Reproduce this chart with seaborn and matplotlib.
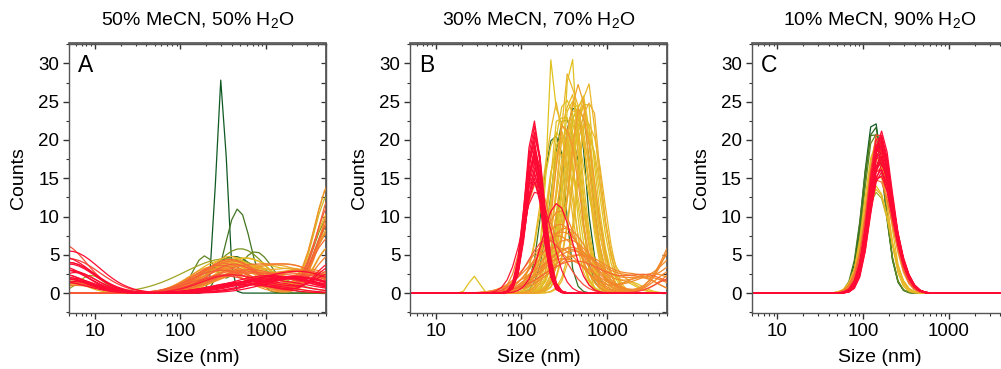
import numpy as np
import pandas as pd
import matplotlib
matplotlib.use("Agg")
import matplotlib.pyplot as plt
from matplotlib.colors import LinearSegmentedColormap
from matplotlib.ticker import MultipleLocator, LogLocator, NullFormatter
import seaborn as sns

sns.set_theme(style="white")
plt.rcParams["font.family"] = ["Liberation Sans", "DejaVu Sans"]
plt.rcParams["mathtext.default"] = "regular"
for key in ["text.color", "axes.labelcolor", "xtick.color", "ytick.color"]:
    plt.rcParams[key] = "black"

# ---------------- data (peak parameters) ----------------
# Instrument size classes (nm)
size_classes = np.geomspace(0.4, 10000, 70)

panel_titles = ["50% MeCN, 50% H$_2$O", "30% MeCN, 70% H$_2$O", "10% MeCN, 90% H$_2$O"]
panel_letters = ["A", "B", "C"]

# Panel A: each measurement = up to three peaks (centre nm, height counts, width decades)
a_c1 = [300, 420, 470, 190, 500,
        350, 450, 500, 400, 550, 600, 300, 700, 380, 500,
        380, 450, 300, 600, 350, 480, 250, 420, 700, 300, 500, 350, 600, 250, 400, 550, 320, 450, 650, 280,
        380, 520, 300, 420, 350,
        1500, 600, 300, 1200, 400, 700, 2000, 300, 1000, 800, 1800, 500, 1300, 900, 2500, 600, 1100, 1600, 700, 2000]
a_h1 = [28, 4.8, 11, 4.8, 5.8,
        4.5, 4.2, 4.5, 4.0, 3.8, 4.6, 4.2, 3.5, 4.8, 4.0,
        4.3, 3.5, 3.8, 3.2, 4.0, 3.0, 3.5, 3.6, 2.8, 3.3, 2.5, 3.0, 2.6, 3.2, 4.2, 3.4, 3.9, 2.9, 3.1, 3.6,
        4.4, 2.7, 3.0, 3.8, 2.4,
        2.0, 1.5, 2.2, 2.0, 2.4, 1.2, 2.1, 0.8, 1.7, 1.6, 1.9, 1.4, 2.2, 1.3, 2.0, 1.1, 2.3, 2.1, 1.5, 2.2]
a_w1 = [0.06, 0.28, 0.14, 0.13, 0.3,
        0.5, 0.3, 0.35, 0.3, 0.33, 0.3, 0.32, 0.35, 0.28, 0.3,
        0.3, 0.4, 0.3, 0.35, 0.32, 0.4, 0.3, 0.35, 0.4, 0.3, 0.4, 0.35, 0.4, 0.3, 0.33, 0.38, 0.3, 0.36, 0.4, 0.3,
        0.32, 0.4, 0.35, 0.3, 0.4,
        0.5, 0.4, 0.3, 0.45, 0.35, 0.4, 0.45, 0.3, 0.5, 0.45, 0.4, 0.35, 0.45, 0.4, 0.4, 0.35, 0.45, 0.45, 0.4, 0.4]
a_c2 = [1000, 5500, 1000, 750, 5500,
        1000, 5500, 3000, 6000, 1000, 5500, 2500, 6000, 4000, 5500,
        5500, 2500, 6500, 2000, 6000, 3500, 5500, 6000, 2500, 6500, 3000, 5500, 6000, 4000, 7000, 2500, 6000, 3000, 5500, 2000,
        6500, 3500, 5500, 6000, 3000,
        1000, 6000, 2500, 1000, 6000, 1000, 1000, 2500, 1000, 1000, 1000, 6000, 1000, 3000, 1000, 1000, 1000, 1000, 6000, 1000]
a_h2 = [0, 9, 0, 5.4, 10,
        0, 13, 2.5, 9, 0, 6, 2.8, 11, 2.6, 8,
        14, 2.5, 12, 2.2, 9, 2.8, 6, 15, 2.4, 11, 2.6, 8, 5, 2.5, 13, 2.7, 10, 2.3, 7, 2.0,
        14, 2.5, 9, 12, 2.2,
        0, 3, 2.2, 0, 4, 0, 0, 2.0, 0, 0, 0, 3.5, 0, 2.2, 0, 0, 0, 0, 2.5, 0]
a_w2 = [0.1, 0.17, 0.1, 0.2, 0.18,
        0.1, 0.18, 0.3, 0.19, 0.1, 0.17, 0.3, 0.2, 0.25, 0.18,
        0.18, 0.25, 0.19, 0.25, 0.19, 0.3, 0.17, 0.2, 0.3, 0.19, 0.3, 0.18, 0.19, 0.3, 0.2, 0.3, 0.19, 0.3, 0.18, 0.3,
        0.2, 0.3, 0.18, 0.2, 0.3,
        0.1, 0.2, 0.35, 0.1, 0.2, 0.1, 0.1, 0.4, 0.1, 0.1, 0.1, 0.2, 0.1, 0.35, 0.1, 0.1, 0.1, 0.1, 0.2, 0.1]
a_c3 = [10, 10, 10, 10, 10,
        9, 10, 5, 10, 5, 10, 10, 6, 10, 10,
        10, 5, 10, 10, 10, 6, 10, 10, 5, 10, 10, 10, 5, 10, 10, 6, 10, 10, 5, 10,
        10, 10, 5, 10, 10,
        4, 5, 5, 5, 4, 5, 4, 5, 4, 4.5, 5, 4, 5, 6, 4, 5, 4, 5, 6, 4]
a_h3 = [0, 0, 0, 0, 0,
        2.3, 0, 1.5, 0, 1.8, 0, 0, 1.2, 0, 0,
        0, 1.5, 0, 0, 0, 1.2, 0, 0, 1.8, 0, 0, 0, 1.4, 0, 0, 1.0, 0, 0, 1.6, 0,
        0, 0, 1.3, 0, 0,
        6.5, 3, 4.5, 4, 2.5, 3, 1.5, 2.0, 3.5, 3, 5.5, 2.0, 4, 1.5, 2.5, 3.8, 2.2, 1.8, 2.7, 4.8]
a_w3 = [0.2, 0.2, 0.2, 0.2, 0.2,
        0.15, 0.2, 0.2, 0.2, 0.25, 0.2, 0.2, 0.3, 0.2, 0.2,
        0.2, 0.25, 0.2, 0.2, 0.2, 0.3, 0.2, 0.2, 0.25, 0.2, 0.2, 0.2, 0.3, 0.2, 0.2, 0.3, 0.2, 0.2, 0.25, 0.2,
        0.2, 0.2, 0.3, 0.2, 0.2,
        0.3, 0.25, 0.35, 0.3, 0.3, 0.3, 0.3, 0.3, 0.3, 0.3, 0.35, 0.3, 0.3, 0.25, 0.3, 0.3, 0.3, 0.3, 0.25, 0.35]

# Panel B
b_c1 = [400, 230, 320, 480,
        300, 380, 450, 350, 520, 260, 420, 560, 330, 400, 280, 480, 370, 620, 320, 440, 290, 500,
        350, 460, 540, 250, 650, 400, 480, 360, 580, 430, 510, 340,
        300, 250, 350, 400, 280, 150, 450, 330, 260, 380, 300, 500, 280, 350, 420, 200,
        150, 260,
        140, 142, 138, 145, 140, 143, 137, 141, 146, 139, 144, 140, 142, 138, 145, 141, 143, 139]
b_h1 = [24, 20, 23, 24,
        22, 26, 24, 25, 23, 21, 25, 22, 23, 22, 20, 24, 21, 20, 19, 22, 18, 20,
        24, 23, 25, 22, 21, 26, 23, 20, 24, 25, 22, 21,
        8, 6, 7, 5.5, 9, 14, 5, 8.5, 7.5, 6, 4.5, 5, 10.8, 5.8, 4.2, 7,
        13.3, 11.7,
        22.5, 21, 20, 19, 18.5, 18, 17.5, 17, 16.5, 16, 15.5, 15, 14.5, 19.5, 20.5, 21.8, 18.8, 17.8]
b_w1 = [0.14, 0.12, 0.15, 0.14,
        0.16, 0.1, 0.17, 0.15, 0.16, 0.17, 0.15, 0.16, 0.17, 0.16, 0.15, 0.17, 0.16, 0.15, 0.17, 0.16, 0.15, 0.17,
        0.16, 0.15, 0.17, 0.16, 0.15, 0.17, 0.16, 0.15, 0.16, 0.17, 0.16, 0.15,
        0.28, 0.3, 0.3, 0.32, 0.25, 0.15, 0.33, 0.27, 0.3, 0.3, 0.35, 0.33, 0.2, 0.3, 0.35, 0.22,
        0.17, 0.17,
        0.1, 0.1, 0.105, 0.1, 0.1, 0.105, 0.1, 0.1, 0.105, 0.1, 0.11, 0.1, 0.11, 0.1, 0.105, 0.1, 0.1, 0.105]
b_c2 = [500, 300, 450, 380,
        220, 370, 560, 260, 600, 400, 330, 480, 250, 700, 350, 560, 450, 500, 280, 380, 230, 420,
        420, 380, 640, 260, 520, 330, 560, 300, 700, 500, 450, 280,
        7000, 2500, 7500, 3000, 6000, 400, 7000, 1000, 6500, 3500, 8000, 2500, 1000, 7000, 3000, 6000,
        1000, 1000,
        1000, 1000, 1000, 1000, 1000, 1000, 1000, 1000, 1000, 1000, 1000, 1000, 1000, 1000, 1000, 1000, 1000, 1000]
b_h2 = [3, 5, 4, 3,
        15, 8, 4, 4, 4, 5, 3, 4, 4, 3, 3, 3, 4, 5, 3, 4, 3, 4,
        4, 3, 4, 3, 4, 5, 3, 3, 3, 4, 3, 3,
        5, 2, 8, 2, 3, 4, 4, 0, 6, 2.5, 9, 1.8, 0, 3, 2.2, 2,
        0, 0,
        0, 0, 0, 0, 0, 0, 0, 0, 0, 0, 0, 0, 0, 0, 0, 0, 0, 0]
b_w2 = [0.04, 0.05, 0.04, 0.04,
        0.04, 0.03, 0.04, 0.05, 0.04, 0.05, 0.04, 0.05, 0.04, 0.05, 0.04, 0.04, 0.05, 0.04, 0.04, 0.05, 0.04, 0.04,
        0.04, 0.05, 0.04, 0.04, 0.05, 0.04, 0.04, 0.05, 0.04, 0.04, 0.05, 0.04,
        0.2, 0.2, 0.2, 0.25, 0.2, 0.2, 0.2, 0.1, 0.2, 0.25, 0.22, 0.2, 0.1, 0.2, 0.25, 0.2,
        0.1, 0.1,
        0.1, 0.1, 0.1, 0.1, 0.1, 0.1, 0.1, 0.1, 0.1, 0.1, 0.1, 0.1, 0.1, 0.1, 0.1, 0.1, 0.1, 0.1]
b_c3 = [1000, 1000, 1000, 1000,
        28, 1000, 1500, 1000, 1000, 1000, 1800, 1000, 1000, 1000, 1000, 1000, 1000, 1000, 1000, 1000, 1000, 1000,
        1000, 1000, 1600, 1000, 1000, 1000, 1000, 1000, 1000, 1000, 1000, 1000,
        2500, 1000, 1000, 1000, 1000, 1000, 2200, 1000, 1000, 1000, 1000, 1000, 1000, 1000, 1000, 1000,
        1000, 1000,
        1000, 1000, 1000, 1000, 1000, 1000, 1000, 1000, 1000, 1000, 1000, 1000, 1000, 1000, 1000, 1000, 1000, 1000]
b_h3 = [0, 0, 0, 0,
        2.2, 0, 1.5, 0, 0, 0, 1.5, 0, 0, 0, 0, 0, 0, 0, 0, 0, 0, 0,
        0, 0, 1.5, 0, 0, 0, 0, 0, 0, 0, 0, 0,
        1.5, 0, 0, 0, 0, 0, 1.5, 0, 0, 0, 0, 0, 0, 0, 0, 0,
        0, 0,
        0, 0, 0, 0, 0, 0, 0, 0, 0, 0, 0, 0, 0, 0, 0, 0, 0, 0]
b_w3 = [0.1, 0.1, 0.1, 0.1,
        0.06, 0.1, 0.15, 0.1, 0.1, 0.1, 0.15, 0.1, 0.1, 0.1, 0.1, 0.1, 0.1, 0.1, 0.1, 0.1, 0.1, 0.1,
        0.1, 0.1, 0.15, 0.1, 0.1, 0.1, 0.1, 0.1, 0.1, 0.1, 0.1, 0.1,
        0.2, 0.1, 0.1, 0.1, 0.1, 0.1, 0.2, 0.1, 0.1, 0.1, 0.1, 0.1, 0.1, 0.1, 0.1, 0.1,
        0.1, 0.1,
        0.1, 0.1, 0.1, 0.1, 0.1, 0.1, 0.1, 0.1, 0.1, 0.1, 0.1, 0.1, 0.1, 0.1, 0.1, 0.1, 0.1, 0.1]

# Panel C
c_c1 = [133, 135, 132, 136,
        145, 143, 147, 140, 145, 142,
        148, 150, 146, 152, 149, 147, 151,
        150, 152, 155, 158, 160, 153, 156, 162, 151, 157, 159, 154, 161, 150, 155, 158, 152, 160, 156, 153, 157, 159, 154]
c_h1 = [22.7, 22.0, 21.3, 21.0,
        13.2, 14.0, 20.5, 19.5, 13.6, 18.0,
        15.0, 17.0, 19.0, 16.0, 18.0, 14.5, 20.0,
        20.7, 20.3, 19.8, 19.5, 19.0, 18.7, 18.3, 18.0, 17.6, 17.2, 16.8, 16.5, 16.1, 15.8, 15.5, 15.2, 14.8, 20.5, 19.3, 17.9, 16.9, 20.0, 18.8]
c_w1 = [0.12, 0.12, 0.125, 0.12,
        0.15, 0.15, 0.13, 0.13, 0.15, 0.135,
        0.14, 0.135, 0.13, 0.14, 0.135, 0.145, 0.13,
        0.12, 0.12, 0.125, 0.12, 0.12, 0.125, 0.125, 0.12, 0.125, 0.125, 0.13, 0.13, 0.125, 0.13, 0.13, 0.13, 0.135, 0.12, 0.125, 0.125, 0.13, 0.12, 0.125]
c_c2 = [1000, 1000, 1000, 1000,
        1000, 1000, 1000, 1000, 1000, 1000,
        240, 240, 240, 240, 240, 240, 240,
        250, 250, 250, 260, 260, 250, 250, 260, 250, 250, 260, 250, 260, 250, 250, 260, 250, 260, 250, 250, 250, 260, 250]
c_h2 = [0, 0, 0, 0,
        0, 0, 0, 0, 0, 0,
        2, 2, 2, 2, 2, 2, 2,
        3, 3, 3, 3, 3, 3, 3, 3, 3, 3, 3, 3, 3, 3, 3, 3, 3, 3, 3, 3, 3, 3, 3]
c_w2 = [0.1, 0.1, 0.1, 0.1,
        0.1, 0.1, 0.1, 0.1, 0.1, 0.1,
        0.12, 0.12, 0.12, 0.12, 0.12, 0.12, 0.12,
        0.12, 0.12, 0.12, 0.12, 0.12, 0.12, 0.12, 0.12, 0.12, 0.12, 0.12, 0.12, 0.12, 0.12, 0.12, 0.12, 0.12, 0.12, 0.12, 0.12, 0.12, 0.12, 0.12]

# ---------------- build curves on the size classes ----------------
def peak(c, h, w):
    return h * np.exp(-0.5 * ((np.log10(size_classes) - np.log10(c)) / w) ** 2)

def build(comps):
    n = len(comps[0][0])
    rows = []
    for i in range(n):
        y = np.zeros_like(size_classes)
        for (cc, hh, ww) in comps:
            y = y + peak(cc[i], hh[i], ww[i])
        rows.append(pd.DataFrame({"size": size_classes, "counts": y, "run": f"r{i:03d}"}))
    return pd.concat(rows, ignore_index=True), n

panel_data = [
    build([(a_c1, a_h1, a_w1), (a_c2, a_h2, a_w2), (a_c3, a_h3, a_w3)]),
    build([(b_c1, b_h1, b_w1), (b_c2, b_h2, b_w2), (b_c3, b_h3, b_w3)]),
    build([(c_c1, c_h1, c_w1), (c_c2, c_h2, c_w2)]),
]

# colour runs from early (dark green) to late (red)
GREEN, OLIVE, YELLOW, GOLD, ORANGE, ORED, RED = ("#0f5a23", "#6b8c1f", "#dfc21f", "#ebb42a",
                                                 "#f2892b", "#f8503a", "#ff0a32")
panel_cmaps = [
    LinearSegmentedColormap.from_list("a", [(0, GREEN), (0.06, OLIVE), (0.11, YELLOW), (0.22, GOLD),
                                            (0.42, ORANGE), (0.7, ORED), (0.76, RED), (1, RED)]),
    LinearSegmentedColormap.from_list("b", [(0, GREEN), (0.03, OLIVE), (0.055, YELLOW), (0.42, GOLD),
                                            (0.5, ORANGE), (0.68, ORANGE), (0.71, ORED), (0.73, RED), (1, RED)]),
    LinearSegmentedColormap.from_list("c", [(0, GREEN), (0.08, OLIVE), (0.12, YELLOW), (0.24, GOLD),
                                            (0.35, ORANGE), (0.43, ORED), (0.47, RED), (1, RED)]),
]

# ---------------- figure ----------------
fig = plt.figure(figsize=(10.01, 3.69), dpi=100)
W, H = 1001, 369
lefts = [69, 410, 751.7]
ax_w, ax_top, ax_bot = 257, 43.5, 313

for k, ((df, n), title, letter, left) in enumerate(zip(panel_data, panel_titles, panel_letters, lefts)):
    ax = fig.add_axes([left / W, (H - ax_bot) / H, ax_w / W, (ax_bot - ax_top) / H])
    runs = [f"r{i:03d}" for i in range(n)]
    cmap = panel_cmaps[k]
    pal = {r: cmap(i / (n - 1)) for i, r in enumerate(runs)}
    sns.lineplot(data=df, x="size", y="counts", hue="run", hue_order=runs, palette=pal,
                 estimator=None, sort=False, legend=False, linewidth=0.9, ax=ax)
    ax.set_xscale("log")
    ax.set_xlim(5, 5000)
    ax.set_ylim(-2.6, 32.6)
    ax.set_yticks([0, 5, 10, 15, 20, 25, 30])
    ax.yaxis.set_minor_locator(MultipleLocator(2.5))
    ax.xaxis.set_minor_locator(LogLocator(base=10, subs=np.arange(2, 10), numticks=10))
    ax.xaxis.set_minor_formatter(NullFormatter())
    ax.set_xticks([10, 100, 1000])
    ax.set_xticklabels(["10", "100", "1000"])
    ax.tick_params(axis="both", which="major", direction="out", length=4, width=1,
                   color="#333333", labelsize=13.5, pad=3, left=True, bottom=True)
    ax.tick_params(axis="both", which="minor", direction="out", length=2.5, width=0.8,
                   color="#333333", left=True, bottom=True)
    for s in ax.spines.values():
        s.set_color("#555555")
        s.set_linewidth(1.0)
    # inward ticks on top and right edges
    sx = ax.secondary_xaxis("top")
    sx.set_xticks([10, 100, 1000])
    sx.xaxis.set_minor_locator(LogLocator(base=10, subs=np.arange(2, 10), numticks=10))
    sx.tick_params(which="major", direction="in", length=4, width=1, color="#333333", labeltop=False)
    sx.tick_params(which="minor", direction="in", length=2.5, width=0.8, color="#333333", labeltop=False)
    sx.spines["top"].set_color("#555555")
    sy = ax.secondary_yaxis("right")
    sy.set_yticks([0, 5, 10, 15, 20, 25, 30])
    sy.yaxis.set_minor_locator(MultipleLocator(2.5))
    sy.tick_params(which="both", direction="in", length=3.5, width=0.9, color="#333333", labelright=False)
    sy.spines["right"].set_color("#555555")

    ax.set_xlabel("Size (nm)", fontsize=14, labelpad=7)
    ax.set_ylabel("Counts", fontsize=14, labelpad=8)
    ax.set_title(title, fontsize=14, pad=13)
    ax.text(0.035, 0.92, letter, transform=ax.transAxes, fontsize=16.5, ha="left", va="center")

fig.savefig("out.png", dpi=100)
